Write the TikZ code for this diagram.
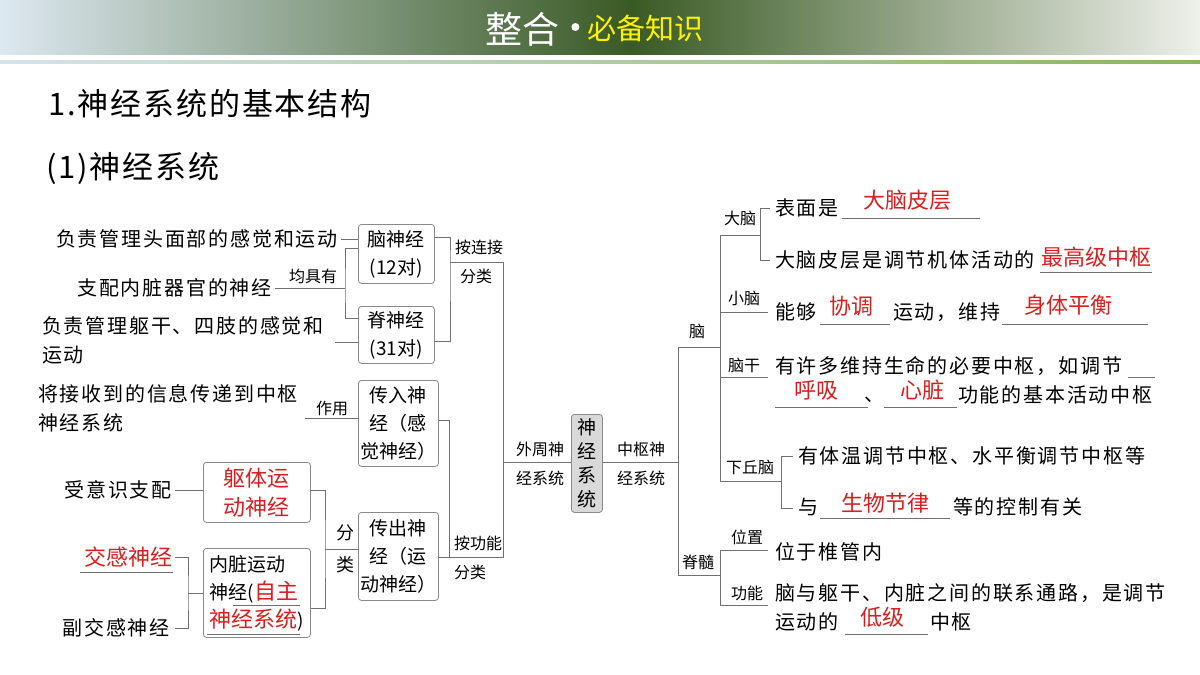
\documentclass[tikz,border=0pt]{standalone}
\usepackage{fontspec}
\setmainfont{Noto Sans CJK SC}
\newfontfamily\widecjk[LetterSpace=9]{Noto Sans CJK SC}
\newfontfamily\headcjk[LetterSpace=6]{Noto Sans CJK SC}
\usetikzlibrary{positioning}
\definecolor{hdgreen}{HTML}{3A5A25}
\definecolor{hdlight}{HTML}{DDE8F0}
\definecolor{hdright}{HTML}{EEF0EA}
\definecolor{linegray}{HTML}{707070}
\definecolor{boxgray}{HTML}{8A8A8A}
\definecolor{ansred}{HTML}{D81E1E}
\definecolor{lineblue}{HTML}{D6E2EA}
\definecolor{linegreen}{HTML}{8AB560}

\tikzset{
  txt/.style={inner sep=0pt, font=\widecjk\fontsize{20}{29}\selectfont},
  lbl/.style={inner sep=0pt, font=\fontsize{16}{18}\selectfont},
  ans/.style={inner sep=0pt, text=ansred, font=\fontsize{22}{24}\selectfont},
  nbox/.style={draw=boxgray, rounded corners=3pt, line width=0.8pt, inner sep=0pt,
    anchor=north west, align=center, font=\fontsize{19}{28}\selectfont},
  ln/.style={draw=linegray, line width=0.9pt},
  uline/.style={draw=linegray, line width=0.9pt}
}

\begin{document}
\begin{tikzpicture}[x=1pt, y=-1pt]
  \useasboundingbox (0,0) rectangle (1200,675);
  % header
  \shade[left color=hdlight, right color=hdgreen] (0,0) rectangle (630,54);
  \shade[left color=hdgreen, right color=hdright] (630,0) rectangle (1200,54);
  \shade[left color=lineblue, right color=linegreen] (0,60) rectangle (1200,63);
  \node[text=white, font=\fontsize{37}{38}\selectfont, inner sep=0pt] (zh) at (522,29) {整合};
  \node[fill=white, circle, inner sep=0pt, minimum size=8pt, right=12pt of zh, yshift=2pt] (dot) {};
  \node[text=yellow, font=\fontsize{29}{30}\selectfont, inner sep=0pt, right=8pt of dot, yshift=-1pt] (bx) {必备知识};

  \node[anchor=west, inner sep=0pt, font=\headcjk\fontsize{31}{32}\selectfont] (h1) at (48,104) {1.神经系统的基本结构};
  \node[anchor=west, inner sep=0pt, font=\headcjk\fontsize{31}{32}\selectfont] (h2) at (46,168) {(1)神经系统};

  % left boxes
  \node[nbox, minimum width=76, minimum height=59] (naosj) at (358,224) {脑神经\\(12对)};
  \node[nbox, minimum width=76, minimum height=57] (jisj) at (358,306) {脊神经\\(31对)};
  \node[nbox, minimum width=80, minimum height=86] (chuanru) at (358,380) {传入神\\经（感\\觉神经）};
  \node[nbox, minimum width=80, minimum height=88] (chuanchu) at (358,512) {传出神\\经（运\\动神经）};
  \node[nbox, minimum width=107, minimum height=60, text=ansred, font=\fontsize{22}{29}\selectfont] (quti) at (203,462) {躯体运\\动神经};
  \node[nbox, minimum width=107, minimum height=89, align=left] (neizang) at (203,548)
    {内脏运动\\神经(\textcolor{ansred}{\fontsize{22}{24}\selectfont 自主}\\\textcolor{ansred}{\fontsize{22}{24}\selectfont 神经系统})};
  \node[nbox, minimum width=31, minimum height=98, fill=black!15, font=\fontsize{19}{24}\selectfont] (sjxt) at (571,414) {神\\经\\系\\统};

  % left texts
  \node[txt, anchor=east] (tou) at (338,239) {负责管理头面部的感觉和运动};
  \node[txt, anchor=east] (neiz) at (272,288) {支配内脏器官的神经};
  \node[txt, anchor=north west, align=left] (qugan) at (42,316) {负责管理躯干、四肢的感觉和\\运动};
  \node[txt, anchor=north west, align=left] (chuandi) at (38,384) {将接收到的信息传递到中枢\\神经系统};
  \node[txt, anchor=east] (suiyi) at (172,490) {受意识支配};
  \node[txt, anchor=east, text=ansred, font=\fontsize{22}{24}\selectfont] (jiaogan) at (173,557) {交感神经};
  \node[txt, anchor=east] (fujiao) at (170,628) {副交感神经};
  \draw[uline] (80,572) -- (173,572);
  \draw[uline] (233,605) -- (300,605);
  \draw[uline] (207,634) -- (300,634);

  % left connectors
  \draw[ln] ([xshift=3pt]tou.east) -- (tou.east -| naosj.west);
  \coordinate (jb) at (345,288);
  \draw[ln] ([xshift=3pt]neiz.east) -- (jb);
  \draw[ln] (naosj.west |- 0,248) -| (jb) |- (jisj.west |- 0,318);
  \node[lbl, above=4pt of jb, xshift=-32pt] (jjy) {均具有};
  \draw[ln] (335,342) -- (jisj.west |- 0,342);
  \coordinate (lj) at (450,262);
  \draw[ln] (naosj.east |- 0,237) -| (lj) |- (jisj.east |- 0,341);
  \coordinate (wz) at (503,262);
  \draw[ln] (lj) -- (wz);
  \node[lbl] (alj) at (479,247) {按连接};
  \node[lbl] (fl1) at (476,276) {分类};
  \draw[ln] (305,418) -- (chuanru.west |- 0,418);
  \node[lbl] (zy) at (332,408) {作用};
  \coordinate (gn) at (449,557);
  \draw[ln] (chuanru.east |- 0,420) -| (gn) -- (chuanchu.east |- gn);
  \coordinate (gw) at (503,557);
  \draw[ln] (gn) -- (gw) -- (wz);
  \node[lbl] (agn) at (478,543) {按功能};
  \node[lbl] (fl2) at (470,572) {分类};
  \draw[ln] (503,462) -- (sjxt.west |- 0,462);
  \node[lbl] (wzs) at (540,449) {外周神};
  \node[lbl] (wzx) at (540,478) {经系统};
  \draw[ln] ([xshift=3pt]suiyi.east) -- (suiyi.east -| quti.west);
  \coordinate (fl) at (325,549);
  \draw[ln] (quti.east |- 0,490) -| (fl) |- (neizang.east |- 0,608);
  \draw[ln] (fl) -- (chuanchu.west |- fl);
  \node[lbl, font=\fontsize{18}{20}\selectfont] (f1) at (345,533) {分};
  \node[lbl, font=\fontsize{18}{20}\selectfont] (f2) at (345,565) {类};
  \coordinate (jg) at (188,593);
  \draw[ln] (175,557) -| (jg) |- (175,628);
  \draw[ln] (jg) -- (neizang.west |- jg);

  % centre
  \coordinate (zs) at (678,462);
  \draw[ln] (sjxt.east |- zs) -- (zs);
  \node[lbl] (zsa) at (641,449) {中枢神};
  \node[lbl] (zsb) at (641,478) {经系统};
  \coordinate (nao) at (720,347);
  \coordinate (jsui) at (720,575);
  \draw[ln] (nao) -| (678,575) -- (jsui);
  \node[lbl] (naol) at (697,331) {脑};
  \node[lbl] (jsl) at (698,562) {脊髓};

  % brain
  \draw[ln] (720,235) -- (720,481);
  \draw[ln] (720,235) -- (760,235);
  \node[lbl] (dn) at (740,218) {大脑};
  \draw[ln] (770,208) -| (760,260) -- (770,260);
  \node[txt, anchor=west] (bm) at (775,208) {表面是};
  \draw[uline] (842,218) -- (980,218);
  \node[ans] (a1) at (907,200) {大脑皮层};
  \node[txt, anchor=west] (dnpc) at (775,260) {大脑皮层是调节机体活动的};
  \node[ans] (a2) at (1096,257) {最高级中枢};
  \draw[uline] (1040,272) -- (1152,272);

  \draw[ln] (720,312) -- (768,312);
  \node[lbl] (xn) at (744,298) {小脑};
  \node[txt, anchor=west] (ng) at (775,312) {能够};
  \draw[uline] (820,324) -- (890,324);
  \node[ans] (a3) at (851,306) {协调};
  \node[txt, anchor=west] (yd) at (893,312) {运动，维持};
  \draw[uline] (1002,324) -- (1148,324);
  \node[ans] (a4) at (1068,305) {身体平衡};

  \draw[ln] (720,377) -- (768,377);
  \node[lbl] (ng2) at (744,365) {脑干};
  \node[txt, anchor=west] (wc) at (775,366) {有许多维持生命的必要中枢，如调节};
  \draw[uline] (1128,377) -- (1155,377);
  \draw[uline] (775,407) -- (868,407);
  \node[ans] (a5) at (816,390) {呼吸};
  \node[txt] (dun) at (874,400) {、};
  \draw[uline] (884,407) -- (957,407);
  \node[ans] (a6) at (922,390) {心脏};
  \node[txt, anchor=west] (gnj) at (958,395) {功能的基本活动中枢};

  \draw[ln] (720,481) -- (781,481);
  \node[lbl] (xqn) at (750,467) {下丘脑};
  \draw[ln] (793,456) -| (781,508) -- (793,508);
  \node[txt, anchor=west] (tw) at (798,456) {有体温调节中枢、水平衡调节中枢等};
  \node[txt, anchor=west] (yu) at (798,507) {与};
  \draw[uline] (820,518) -- (950,518);
  \node[ans] (a7) at (885,503) {生物节律};
  \node[txt, anchor=west] (kz) at (953,507) {等的控制有关};

  % spinal cord
  \draw[ln] (768,550) -| (720,605) -- (768,605);
  \node[lbl] (wz2) at (747,537) {位置};
  \node[txt, anchor=west] (wyz) at (775,552) {位于椎管内};
  \node[lbl] (gn2) at (747,593) {功能};
  \node[txt, anchor=west] (lx) at (775,593) {脑与躯干、内脏之间的联系通路，是调节};
  \node[txt, anchor=west] (ydd) at (775,622) {运动的};
  \draw[uline] (845,634) -- (928,634);
  \node[ans] (a8) at (882,617) {低级};
  \node[txt, anchor=west] (zsh) at (930,622) {中枢};
\end{tikzpicture}
\end{document}
